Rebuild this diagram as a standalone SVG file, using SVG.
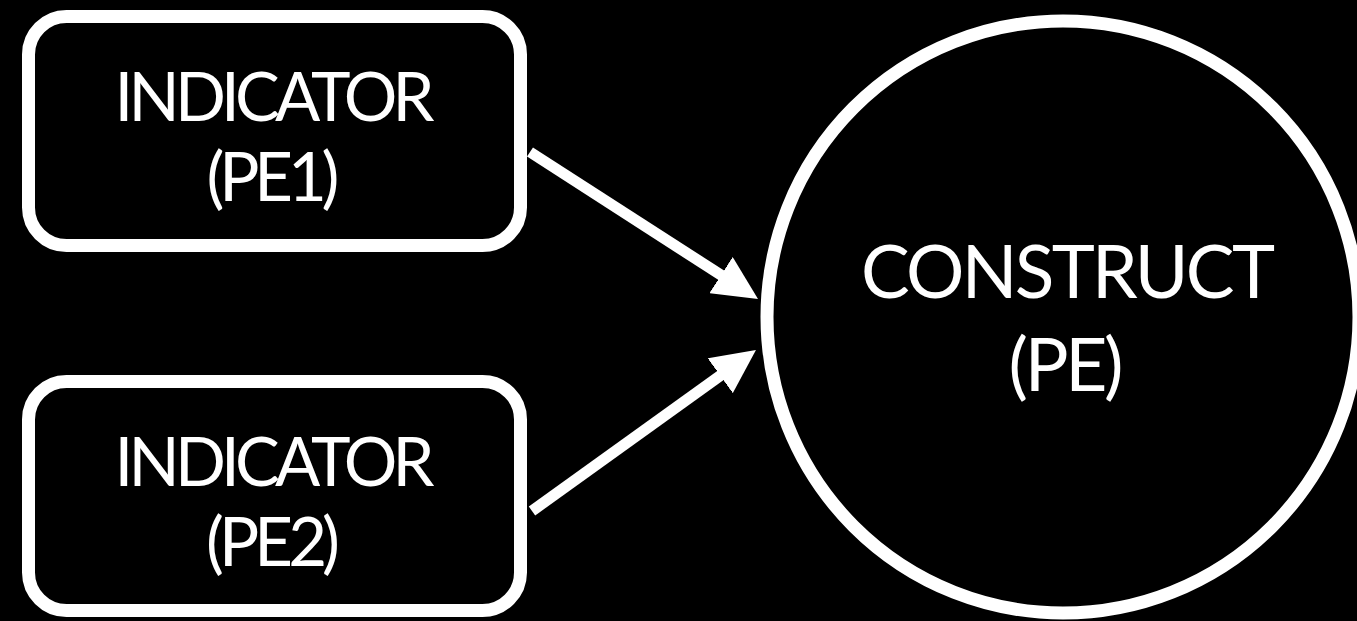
<svg xmlns="http://www.w3.org/2000/svg" width="1357" height="621" viewBox="0 0 1357 621">
<style>
.box{fill:#000;stroke:#fff;stroke-width:13}
.lbl{fill:#fff;font-family:"Lato","Noto Sans",sans-serif;text-anchor:middle}
.edge{stroke:#fff;stroke-width:11;fill:none}
</style>
<defs>
<marker id="ah" markerUnits="userSpaceOnUse" markerWidth="44" markerHeight="43" refX="14" refY="21.5" orient="auto" viewBox="0 0 44 43">
<path d="M0,0 L44,21.5 L0,43 z" fill="#fff"/>
</marker>
</defs>
<rect width="1357" height="621" fill="#000"/>
<g id="pe1">
<rect class="box" x="28.5" y="16.5" width="492" height="229" rx="38"/>
<text class="lbl" font-size="67" x="274.5" y="121" textLength="320">INDICATOR</text>
<text class="lbl" font-size="67" x="273" y="201" textLength="133">(PE1)</text>
</g>
<g id="pe2">
<rect class="box" x="28.5" y="381.5" width="492" height="229" rx="38"/>
<text class="lbl" font-size="67" x="274.5" y="486" textLength="320">INDICATOR</text>
<text class="lbl" font-size="67" x="273" y="566" textLength="134">(PE2)</text>
</g>
<g id="pe">
<circle cx="1063" cy="317" r="296" fill="#000" stroke="#fff" stroke-width="13"/>
<text class="lbl" font-size="73" x="1068" y="298" textLength="414">CONSTRUCT</text>
<text class="lbl" font-size="73" x="1066" y="391" textLength="115">(PE)</text>
</g>
<g id="connectors">
<line class="edge" x1="530" y1="152" x2="732.8" y2="282.7" marker-end="url(#ah)"/>
<line class="edge" x1="532" y1="511" x2="731.6" y2="367.5" marker-end="url(#ah)"/>
</g>
</svg>
